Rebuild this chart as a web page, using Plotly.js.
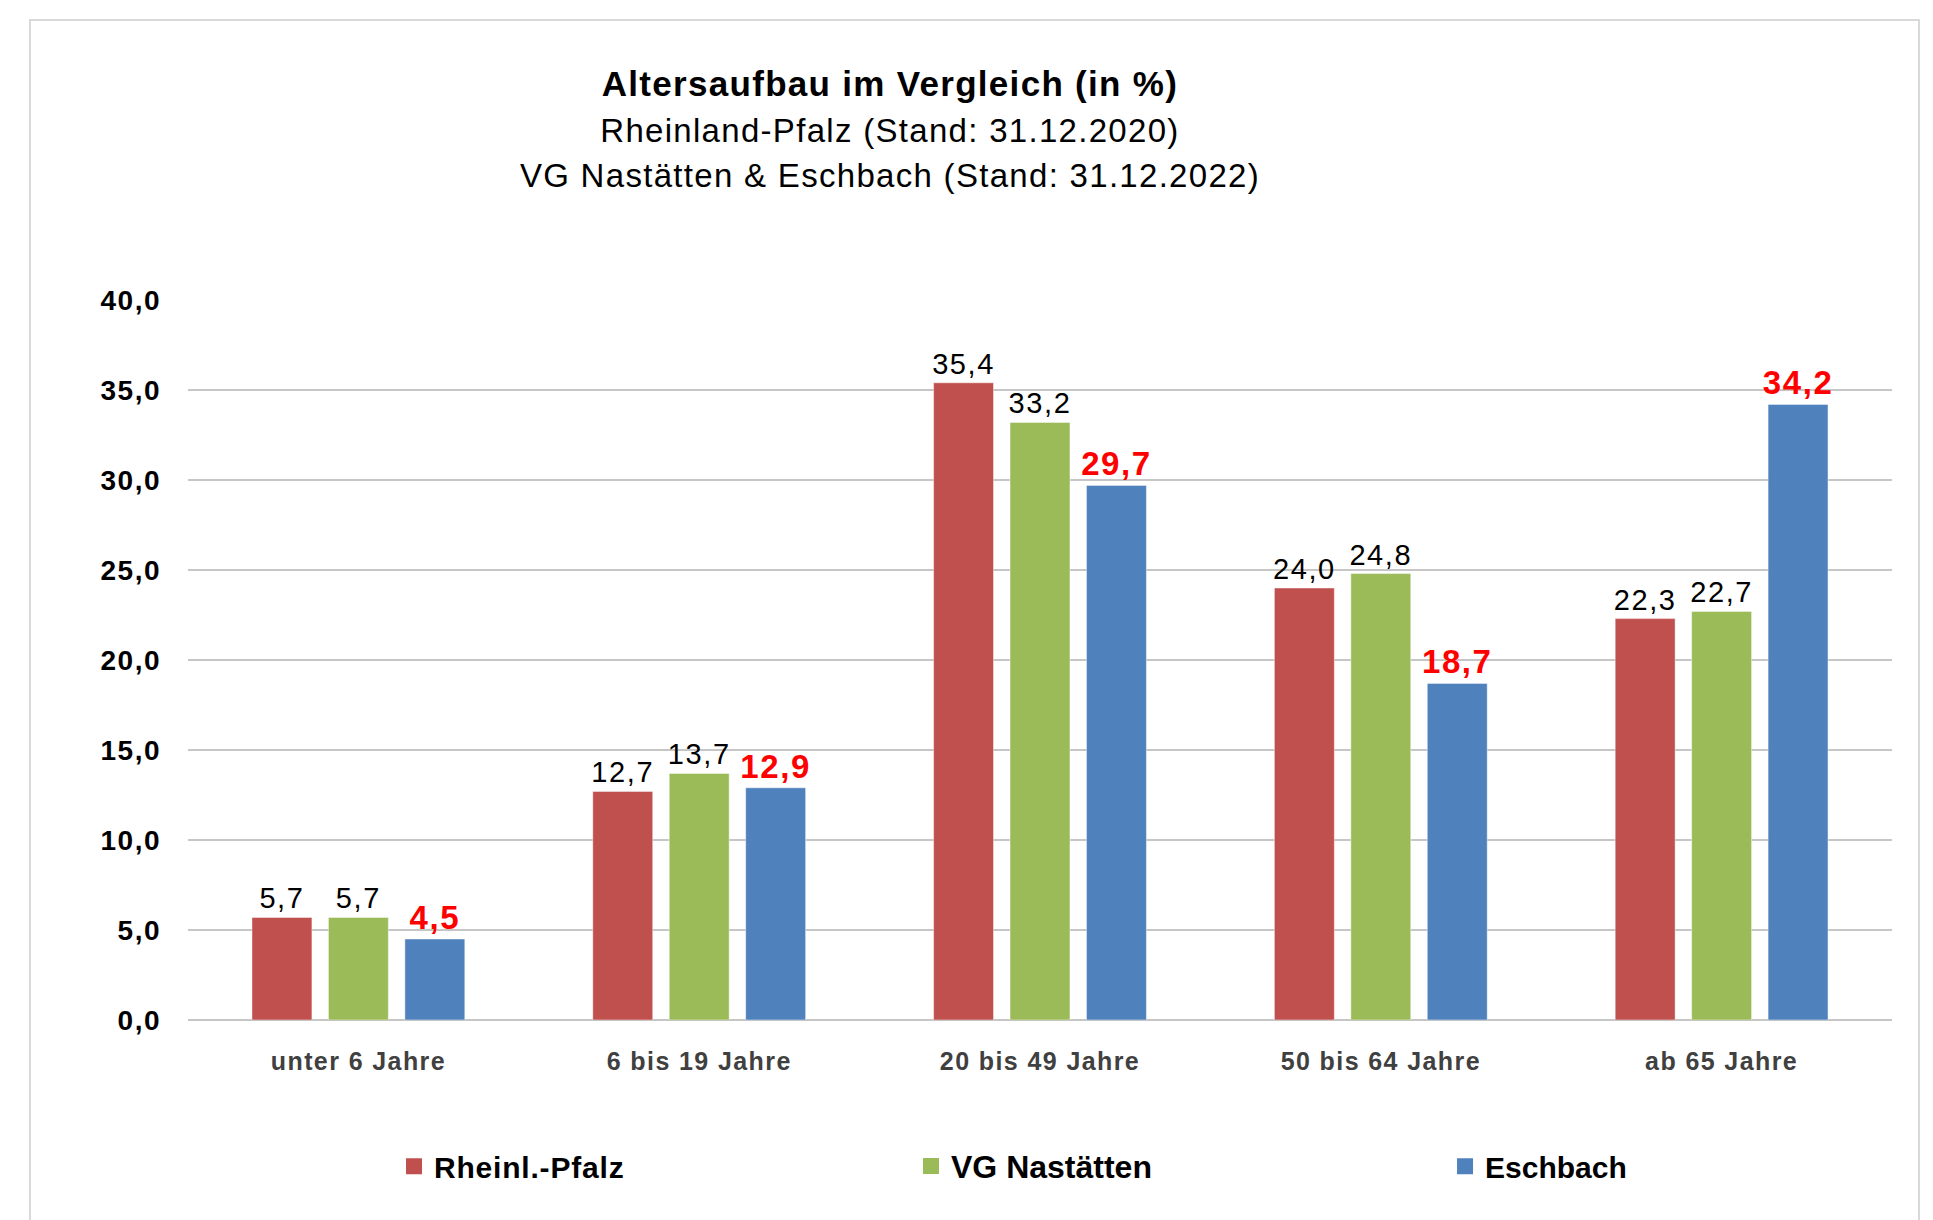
<!DOCTYPE html>
<html>
<head>
<meta charset="utf-8">
<script src="https://cdn.plot.ly/plotly-3.0.1.min.js"></script>
<style>
  html, body { margin: 0; padding: 0; background: #fff; overflow: hidden; }
  #wrap { position: relative; width: 1933px; height: 1220px; }
  #chart { position: absolute; left: 0; top: 0; width: 1933px; height: 1220px; }
  #frame { position: absolute; left: 29px; top: 19px; width: 1891px; height: 1300px;
           border: 2px solid #d9d9d9; pointer-events: none; box-sizing: border-box; }
  .gtitle { letter-spacing: 1.3px; }
  .ytick text { letter-spacing: 1.5px; }
  .xtick text { letter-spacing: 1.4px; }
  .bartext { letter-spacing: 1.6px; }
  .legendtext { letter-spacing: 0.8px; }
</style>
</head>
<body>
<div id="wrap">
  <div id="chart"></div>
  <div id="frame"></div>
</div>
<script>
const categories = ['unter 6 Jahre', '6 bis 19 Jahre', '20 bis 49 Jahre', '50 bis 64 Jahre', 'ab 65 Jahre'];
const seriesNames = ['Rheinl.-Pfalz', 'VG Nastätten', 'Eschbach'];
const rheinlandPfalz = [5.7, 12.7, 35.4, 24.0, 22.3];
const vgNastaetten = [5.7, 13.7, 33.2, 24.8, 22.7];
const eschbach = [4.5, 12.9, 29.7, 18.7, 34.2];
const yTicks = [0, 5, 10, 15, 20, 25, 30, 35, 40];

const colors = ['#C0504D', '#9BBB59', '#4F81BD'];
const FONT = 'Liberation Sans, Arial, Helvetica, sans-serif';
const values = [rheinlandPfalz, vgNastaetten, eschbach];
const legendIds = ['legend', 'legend2', 'legend3'];

const traces = [];
values.forEach((vals, i) => {
  const highlight = i === 2;
  traces.push({
    type: 'bar',
    name: seriesNames[i],
    x: categories,
    y: vals,
    showlegend: false,
    marker: { color: colors[i], line: { color: 'rgba(255,255,255,0.45)', width: 1 } },
    texttemplate: '%{y:.1f}',
    textposition: 'outside',
    constraintext: 'none',
    cliponaxis: false,
    textfont: highlight
      ? { family: FONT, size: 33, color: '#FF0000', weight: 'bold' }
      : { family: FONT, size: 29, color: '#000000' },
    hoverinfo: 'x+y+name'
  });
});
// legend proxies (square swatches), one legend each
seriesNames.forEach((n, i) => {
  traces.push({
    type: 'scatter',
    mode: 'markers',
    name: n,
    x: [null],
    y: [null],
    marker: { symbol: 'square', size: 16, color: colors[i] },
    showlegend: true,
    legend: legendIds[i],
    hoverinfo: 'skip'
  });
});

const legendBase = {
  orientation: 'h',
  xanchor: 'left',
  y: -0.203, yanchor: 'middle',
  font: { family: FONT, size: 30, color: '#000', weight: 'bold' },
  bgcolor: 'rgba(0,0,0,0)'
};

const layout = {
  width: 1933,
  height: 1220,
  paper_bgcolor: '#ffffff',
  plot_bgcolor: '#ffffff',
  separators: ',.',
  margin: { l: 188, r: 41, t: 300, b: 200, pad: 0 },
  barmode: 'group',
  bargap: 0.327,
  bargroupgap: 0.216,
  font: { family: FONT, color: '#000' },
  title: {
    text: '<b>Altersaufbau im Vergleich (in %)</b><br><span style="font-size:33px">Rheinland-Pfalz (Stand: 31.12.2020)</span><br><span style="font-size:33px">VG Nastätten &amp; Eschbach (Stand: 31.12.2022)</span>',
    font: { family: FONT, size: 35, color: '#000' },
    x: 0.4604, xref: 'container', xanchor: 'center',
    y: 0.921, yref: 'container', yanchor: 'top'
  },
  xaxis: {
    type: 'category',
    categoryorder: 'array',
    categoryarray: categories,
    showgrid: false,
    showline: false,
    zeroline: false,
    ticks: '',
    ticklabelstandoff: 24,
    tickfont: { family: FONT, size: 25, color: '#404040', weight: 'bold' },
    fixedrange: true
  },
  yaxis: {
    range: [0, 40],
    tickmode: 'array',
    tickvals: yTicks,
    tickformat: '.1f',
    showgrid: true,
    gridcolor: '#c6c6c6',
    gridwidth: 1.5,
    zeroline: true,
    zerolinecolor: '#c6c6c6',
    zerolinewidth: 1.5,
    showline: false,
    ticks: '',
    ticklabelstandoff: 26,
    tickfont: { family: FONT, size: 28, color: '#000', weight: 'bold' },
    fixedrange: true
  },
  showlegend: true,
  legend: Object.assign({}, legendBase, { x: 0.1209 }),
  legend2: Object.assign({}, legendBase, { x: 0.4243,
    font: { family: FONT, size: 32, color: '#000', weight: 'bold' } }),
  legend3: Object.assign({}, legendBase, { x: 0.7377 })
};

Plotly.newPlot('chart', traces, layout, { displayModeBar: false, staticPlot: true });
</script>
</body>
</html>
